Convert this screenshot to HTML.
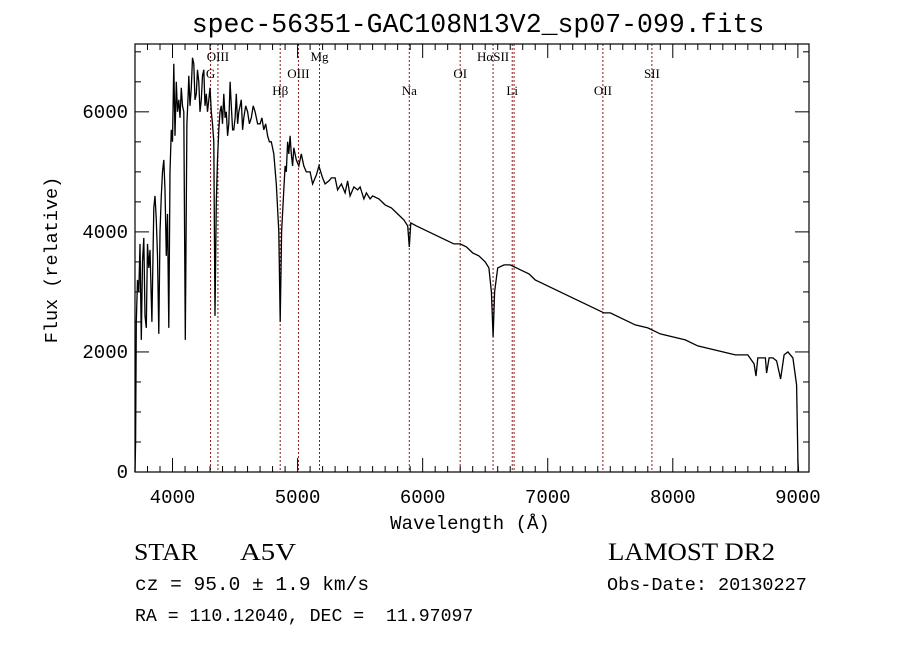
<!DOCTYPE html>
<html><head><meta charset="utf-8"><style>
body{margin:0;background:#fff}
svg text{font-family:"Liberation Mono",monospace;fill:#000}
svg text.serif{font-family:"Liberation Serif",serif}
</style></head><body>
<svg id="chart" width="900" height="649" viewBox="0 0 900 649" xmlns="http://www.w3.org/2000/svg">
<rect width="900" height="649" fill="#fff"/>
<text x="478" y="32" font-size="26.5" text-anchor="middle">spec-56351-GAC108N13V2_sp07-099.fits</text>
<g id="lines"></g>
<g id="spec"></g>
<g id="axes"></g>
<text x="470" y="529" font-size="19" text-anchor="middle">Wavelength (Å)</text>
<text transform="translate(57,260) rotate(-90)" font-size="18.5" text-anchor="middle">Flux (relative)</text>
<text class="serif" x="134" y="560" font-size="24" textLength="64" lengthAdjust="spacingAndGlyphs">STAR</text>
<text class="serif" x="240" y="560" font-size="24" textLength="56" lengthAdjust="spacingAndGlyphs">A5V</text>
<text x="135" y="590" font-size="19.5">cz = 95.0 ± 1.9 km/s</text>
<text x="135" y="621" font-size="18.2">RA = 110.12040, DEC =&#160;&#160;11.97097</text>
<text class="serif" x="608" y="560" font-size="25" textLength="167" lengthAdjust="spacingAndGlyphs">LAMOST DR2</text>
<text x="607" y="590" font-size="18.5">Obs-Date: 20130227</text>
</svg>
<script>
const wavelengths=[3700,3705,3710,3720,3730,3740,3750,3760,3770,3780,3790,3800,3810,3820,3835,3850,3860,3870,3880,3890,3900,3910,3920,3930,3940,3950,3960,3970,3980,3990,4000,4010,4020,4030,4040,4050,4060,4070,4080,4090,4102,4115,4125,4130,4140,4150,4160,4170,4180,4190,4200,4210,4220,4230,4240,4250,4260,4270,4280,4290,4300,4310,4320,4330,4340,4350,4360,4370,4380,4390,4400,4410,4420,4430,4440,4450,4460,4470,4480,4490,4500,4510,4520,4530,4540,4550,4560,4570,4585,4600,4615,4630,4645,4660,4680,4700,4715,4730,4745,4760,4775,4790,4810,4830,4850,4861,4872,4890,4900,4910,4920,4930,4940,4950,4960,4970,4990,5010,5030,5050,5070,5100,5120,5150,5170,5200,5220,5250,5270,5300,5320,5350,5380,5400,5420,5450,5480,5500,5530,5550,5580,5600,5650,5700,5750,5800,5850,5880,5893,5905,5950,6000,6050,6100,6150,6200,6250,6300,6350,6400,6450,6500,6530,6550,6563,6575,6600,6650,6700,6750,6800,6850,6900,6950,7000,7100,7200,7300,7400,7450,7500,7600,7700,7800,7900,8000,8100,8200,8300,8400,8500,8550,8600,8650,8665,8680,8700,8740,8750,8770,8800,8830,8862,8890,8920,8960,8990,9000,9005];
const fluxes=[0,500,2500,3200,3000,3800,2200,3500,3900,2600,2400,3800,3400,3700,2500,4400,4600,4200,3600,2300,4000,4600,5000,5200,4700,3600,4300,2400,5000,5700,5500,6800,5600,6500,6000,6200,5900,6400,6100,6000,2200,5800,6300,6600,6100,6400,6900,6800,6200,6300,6700,6500,6000,6200,6600,6700,6100,6300,6000,6200,6400,6000,5800,5500,2600,4500,5200,5700,6000,6100,5800,6300,5900,6000,5600,5800,6500,6100,5700,5700,5900,6300,5800,6000,6100,6200,5700,5900,6100,6000,5800,5900,6100,6000,5800,5800,5900,5700,5800,5600,5500,5500,5300,4800,4000,2500,4000,4700,5100,5000,5500,5300,5600,5300,5100,5400,5200,5100,5300,5100,5000,5000,4800,4950,5100,4900,4800,4850,4900,4900,4700,4800,4650,4850,4600,4750,4700,4750,4550,4650,4550,4600,4550,4450,4400,4300,4200,4100,3750,4150,4100,4050,4000,3950,3900,3850,3800,3800,3750,3650,3600,3500,3400,3000,2250,3000,3400,3450,3450,3400,3350,3300,3200,3150,3100,3000,2900,2800,2700,2650,2650,2550,2450,2400,2300,2250,2200,2100,2050,2000,1950,1950,1950,1800,1600,1900,1900,1900,1650,1900,1900,1850,1550,1950,2000,1900,1450,200,0];
const lineWaves=[4304,4363,4861,5007,5175,5893,6300,6563,6716,6731,7441,7833];
const lineLabels=["G","OIII","Hβ","OIII","Mg","Na","OI","HαSII","Li","","OII","SII"];
const labelRows=[2,1,3,2,1,3,2,1,3,0,3,2];
const xTicks=[4000,5000,6000,7000,8000,9000];
const yTicks=[0,2000,4000,6000];

const L=135,R=809,T=44,B=472,W0=3700,W1=9089,F0=0,F1=7130;
const sx=w=>L+(w-W0)/(W1-W0)*(R-L);
const sy=f=>B-(f-F0)/(F1-F0)*(B-T);
const NS="http://www.w3.org/2000/svg";
function mk(tag,attrs,parent){const e=document.createElementNS(NS,tag);for(const k in attrs)e.setAttribute(k,attrs[k]);parent.appendChild(e);return e;}
const gl=document.getElementById('lines'),gs=document.getElementById('spec'),ga=document.getElementById('axes');
const rowY=[0,61,78,95];
lineWaves.forEach((w,i)=>{
 const x=sx(w);
 const l=mk('line',{x1:x,x2:x,y1:T,y2:B,stroke:'#8b1a1a','stroke-width':1,'stroke-dasharray':'2,2'},gl);
 
 
 if(lineLabels[i]){
  const t=mk('text',{x:x,y:rowY[labelRows[i]],'font-size':13,'text-anchor':'middle','class':'serif'},gl);
  t.textContent=lineLabels[i];
  
  
 }
});
let d='';
wavelengths.forEach((w,i)=>{d+=(i?'L':'M')+sx(w).toFixed(1)+','+sy(fluxes[i]).toFixed(1);});
const p=mk('path',{d:d,fill:'none',stroke:'#000','stroke-width':1.3},gs);


const fr=mk('rect',{x:L,y:T,width:R-L,height:B-T,fill:'none',stroke:'#000','stroke-width':1.2},ga);


for(let w=3800;w<=9000;w+=100){
 const x=sx(w),maj=w%1000===0,len=maj?14:6;
 mk('line',{x1:x,x2:x,y1:B,y2:B-len,stroke:'#000'},ga);
 mk('line',{x1:x,x2:x,y1:T,y2:T+len,stroke:'#000'},ga);
}
xTicks.forEach(w=>{const t=mk('text',{x:sx(w),y:B+31,'font-size':19,'text-anchor':'middle'},ga);t.textContent=w;
 
 });
for(let f=0;f<=7000;f+=500){
 const y=sy(f),maj=f%2000===0,len=maj?14:6;
 mk('line',{x1:L,x2:L+len,y1:y,y2:y,stroke:'#000'},ga);
 mk('line',{x1:R,x2:R-len,y1:y,y2:y,stroke:'#000'},ga);
}
yTicks.forEach(f=>{const t=mk('text',{x:128,y:sy(f)+6,'font-size':19,'text-anchor':'end'},ga);t.textContent=f;
 
 });
</script>
</body></html>
